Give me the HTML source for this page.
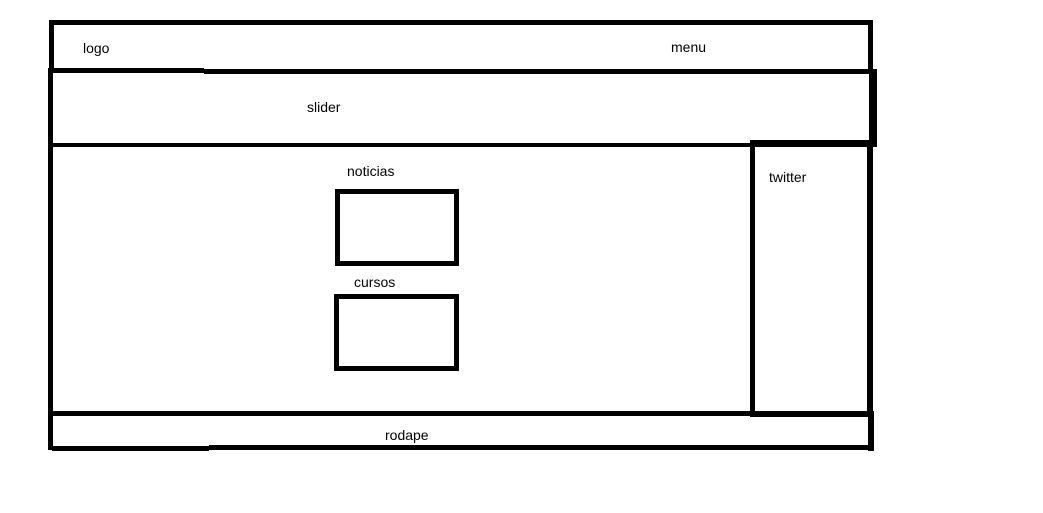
<!DOCTYPE html>
<html><head><meta charset="utf-8"><style>
html,body{margin:0;padding:0;background:#fff;width:1043px;height:513px;overflow:hidden;position:relative;font-family:"Liberation Sans",sans-serif}
.l{position:absolute;background:#000}
.t{position:absolute;font-size:14px;color:#000;line-height:1;white-space:nowrap}
</style></head><body>
<div class="l" style="left:50px;top:20px;width:823px;height:5px"></div>
<div class="l" style="left:49px;top:20px;width:5px;height:52px"></div>
<div class="l" style="left:868px;top:20px;width:5px;height:52px"></div>
<div class="l" style="left:48px;top:68px;width:156px;height:5px"></div>
<div class="l" style="left:204px;top:69px;width:673px;height:5px"></div>
<div class="l" style="left:48px;top:68px;width:5px;height:382px"></div>
<div class="l" style="left:869px;top:69px;width:8px;height:78px"></div>
<div class="l" style="left:50px;top:143px;width:700px;height:4px"></div>
<div class="l" style="left:750px;top:140px;width:125px;height:7px"></div>
<div class="l" style="left:750px;top:140px;width:5px;height:277px"></div>
<div class="l" style="left:867px;top:140px;width:6px;height:277px"></div>
<div class="l" style="left:750px;top:412px;width:123px;height:5px"></div>
<div class="l" style="left:48px;top:411px;width:825px;height:5px"></div>
<div class="l" style="left:868px;top:411px;width:6px;height:40px"></div>
<div class="l" style="left:52px;top:446px;width:157px;height:5px"></div>
<div class="l" style="left:209px;top:445px;width:665px;height:5px"></div>
<div style="position:absolute;left:335px;top:189px;width:114px;height:67px;border:5px solid #000"></div>
<div style="position:absolute;left:334px;top:294px;width:115px;height:67px;border:5px solid #000"></div>
<div class="t" style="left:83px;top:41px">logo</div>
<div class="t" style="left:671px;top:40px">menu</div>
<div class="t" style="left:307px;top:100px">slider</div>
<div class="t" style="left:347px;top:164px">noticias</div>
<div class="t" style="left:354px;top:275px">cursos</div>
<div class="t" style="left:769px;top:170px">twitter</div>
<div class="t" style="left:385px;top:428px">rodape</div>
</body></html>
